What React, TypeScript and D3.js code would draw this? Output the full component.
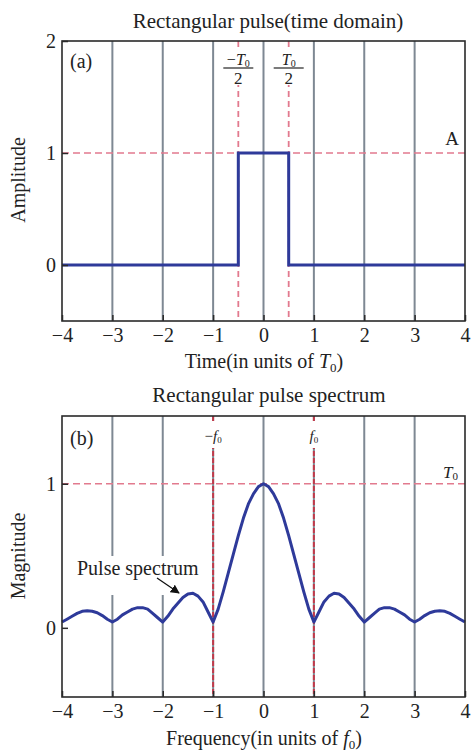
import { useEffect, useRef } from "react";
import * as d3 from "d3";

// panel (a): rectangular pulse
const timeX = [-4, -0.5, -0.5, 0.5, 0.5, 4];
const timeAmp = [0, 0, 1, 1, 0, 0];

// panel (b): magnitude, f from -4 to 4
const freq = [
  -4, -3.9, -3.8, -3.7, -3.6, -3.5, -3.4, -3.3, -3.2, -3.1,
  -3, -2.9, -2.8, -2.7, -2.6, -2.5, -2.4, -2.3, -2.2, -2.1,
  -2, -1.9, -1.8, -1.7, -1.6, -1.5, -1.4, -1.3, -1.2, -1.1,
  -1, -0.9, -0.8, -0.7, -0.6, -0.5, -0.4, -0.3, -0.2, -0.1,
  0, 0.1, 0.2, 0.3, 0.4, 0.5, 0.6, 0.7, 0.8, 0.9,
  1, 1.1, 1.2, 1.3, 1.4, 1.5, 1.6, 1.7, 1.8, 1.9,
  2, 2.1, 2.2, 2.3, 2.4, 2.5, 2.6, 2.7, 2.8, 2.9,
  3, 3.1, 3.2, 3.3, 3.4, 3.5, 3.6, 3.7, 3.8, 3.9, 4,
];
const magnitude = [
  0.04, 0.06, 0.08, 0.1, 0.115, 0.118, 0.115, 0.105, 0.085, 0.06,
  0.04, 0.06, 0.09, 0.11, 0.13, 0.14, 0.14, 0.13, 0.1, 0.07,
  0.04, 0.08, 0.13, 0.17, 0.21, 0.235, 0.24, 0.22, 0.18, 0.11,
  0.04, 0.13, 0.25, 0.38, 0.51, 0.64, 0.76, 0.86, 0.93, 0.98,
  1.0, 0.98, 0.93, 0.86, 0.76, 0.64, 0.51, 0.38, 0.25, 0.13,
  0.04, 0.11, 0.18, 0.22, 0.24, 0.235, 0.21, 0.17, 0.13, 0.08,
  0.04, 0.07, 0.1, 0.13, 0.14, 0.14, 0.13, 0.11, 0.09, 0.06,
  0.04, 0.06, 0.085, 0.105, 0.115, 0.118, 0.115, 0.1, 0.08, 0.06, 0.04,
];

const xTicks = [-4, -3, -2, -1, 0, 1, 2, 3, 4];
const gridTicks = [-3, -2, -1, 0, 1, 2, 3];
const yTicksA = [0, 1, 2];
const yTicksB = [0, 1];

const FONT = "'Liberation Serif', 'Times New Roman', serif";
const BLUE = "#2e3a9a";
const GRAY = "#7e8893";
const PINK = "#e27a8e";
const RED = "#c23a4a";

const Chart = () => {
  const ref = useRef(null);

  useEffect(() => {
    if (!ref.current) return;
    const svg = d3.select(ref.current);
    svg.selectAll("*").remove();

    const width = 473;
    const height = 751;
    svg.attr("viewBox", [0, 0, width, height]).attr("font-family", FONT);

    const x = d3.scaleLinear().domain([-4, 4]).range([62, 465]);

    const frame = (top: number, bottom: number) =>
      svg
        .append("rect")
        .attr("x", 62)
        .attr("y", top)
        .attr("width", 403)
        .attr("height", bottom - top)
        .attr("fill", "none")
        .attr("stroke", "#2a2a2a")
        .attr("stroke-width", 1.6);

    const axes = (y: any, ticks: number[], bottom: number) => {
      svg
        .append("g")
        .attr("transform", `translate(0,${bottom})`)
        .call(d3.axisBottom(x).tickValues(xTicks).tickSize(-6).tickPadding(7))
        .call((g: any) => g.select(".domain").remove())
        .call((g: any) =>
          g.selectAll("text").attr("font-size", 20).attr("font-family", FONT).attr("fill", "#222")
        )
        .call((g: any) => g.selectAll("line").attr("stroke", "#2a2a2a").attr("stroke-width", 1.5));
      svg
        .append("g")
        .attr("transform", `translate(62,0)`)
        .call(d3.axisLeft(y).tickValues(ticks).tickSize(-6).tickPadding(6).tickFormat(d3.format("d")))
        .call((g: any) => g.select(".domain").remove())
        .call((g: any) =>
          g.selectAll("text").attr("font-size", 20).attr("font-family", FONT).attr("fill", "#222")
        )
        .call((g: any) => g.selectAll("line").attr("stroke", "#2a2a2a").attr("stroke-width", 1.5));
    };

    const text = (tx: number, ty: number, s: string, size = 20, anchor = "middle") =>
      svg
        .append("text")
        .attr("x", tx)
        .attr("y", ty)
        .attr("font-size", size)
        .attr("text-anchor", anchor)
        .attr("fill", "#222")
        .text(s);

    // ---------- panel (a) ----------
    const ya = d3.scaleLinear().domain([-0.5, 2]).range([321, 41]);

    svg
      .append("g")
      .selectAll("line")
      .data(gridTicks)
      .join("line")
      .attr("x1", (d) => x(d))
      .attr("x2", (d) => x(d))
      .attr("y1", ya(2))
      .attr("y2", ya(-0.5))
      .attr("stroke", GRAY)
      .attr("stroke-width", 2);

    svg
      .append("line")
      .attr("x1", x(-4))
      .attr("x2", x(4))
      .attr("y1", ya(1))
      .attr("y2", ya(1))
      .attr("stroke", PINK)
      .attr("stroke-width", 1.5)
      .attr("stroke-dasharray", "7,4");

    svg
      .append("g")
      .selectAll("line")
      .data([-0.5, 0.5])
      .join("line")
      .attr("x1", (d) => x(d))
      .attr("x2", (d) => x(d))
      .attr("y1", ya(2))
      .attr("y2", ya(-0.5))
      .attr("stroke", PINK)
      .attr("stroke-width", 1.8)
      .attr("stroke-dasharray", "6,4");

    const pulse = d3
      .line<number>()
      .x((_, i) => x(timeX[i]))
      .y((d) => ya(d));
    svg
      .append("path")
      .attr("d", pulse(timeAmp))
      .attr("fill", "none")
      .attr("stroke", BLUE)
      .attr("stroke-width", 3);

    // fraction labels -T0/2, T0/2
    [
      { v: -0.5, neg: true },
      { v: 0.5, neg: false },
    ].forEach(({ v, neg }) => {
      const cx = x(v);
      svg.append("rect").attr("x", cx - 17).attr("y", 48).attr("width", 34).attr("height", 37).attr("fill", "#fff");
      const t = svg
        .append("text")
        .attr("x", cx)
        .attr("y", 65)
        .attr("font-size", 16)
        .attr("text-anchor", "middle")
        .attr("fill", "#222");
      if (neg) t.append("tspan").text("−");
      t.append("tspan").attr("font-style", "italic").text("T");
      t.append("tspan").attr("font-size", 10).attr("dy", 2).text("0");
      svg
        .append("line")
        .attr("x1", cx - 15)
        .attr("x2", cx + 15)
        .attr("y1", 68)
        .attr("y2", 68)
        .attr("stroke", "#222")
        .attr("stroke-width", 1.2);
      text(cx, 84, "2", 17);
    });

    frame(41, 321);
    axes(ya, yTicksA, 321);

    text(268, 28, "Rectangular pulse(time domain)", 21);
    text(70, 68, "(a)", 20, "start");
    text(459, 145, "A", 19, "end");
    svg
      .append("text")
      .attr("transform", `translate(25,180) rotate(-90)`)
      .attr("font-size", 20)
      .attr("text-anchor", "middle")
      .attr("fill", "#222")
      .text("Amplitude");
    const ta = text(264, 368, "Time(in units of ", 20);
    ta.append("tspan").attr("font-style", "italic").text("T");
    ta.append("tspan").attr("font-size", 13).attr("dy", 4).text("0");
    ta.append("tspan").attr("dy", -4).text(")");

    // ---------- panel (b) ----------
    const yb = d3.scaleLinear().domain([-0.48, 1.47]).range([697, 416]);

    svg
      .append("g")
      .selectAll("line")
      .data(gridTicks)
      .join("line")
      .attr("x1", (d) => x(d))
      .attr("x2", (d) => x(d))
      .attr("y1", yb(1.47))
      .attr("y2", yb(-0.48))
      .attr("stroke", GRAY)
      .attr("stroke-width", 2);

    svg
      .append("line")
      .attr("x1", x(-4))
      .attr("x2", x(4))
      .attr("y1", yb(1))
      .attr("y2", yb(1))
      .attr("stroke", PINK)
      .attr("stroke-width", 1.5)
      .attr("stroke-dasharray", "7,4");

    svg
      .append("g")
      .selectAll("line")
      .data([-1, 1])
      .join("line")
      .attr("x1", (d) => x(d))
      .attr("x2", (d) => x(d))
      .attr("y1", yb(1.47))
      .attr("y2", yb(-0.48))
      .attr("stroke", RED)
      .attr("stroke-width", 2)
      .attr("stroke-dasharray", "5,2");

    // labels -f0, f0 with white backing
    [
      { v: -1, s: "−" },
      { v: 1, s: "" },
    ].forEach(({ v, s }) => {
      const cx = x(v);
      svg.append("rect").attr("x", cx - 10).attr("y", 421).attr("width", 20).attr("height", 27).attr("fill", "#fff");
      const t = svg
        .append("text")
        .attr("x", cx)
        .attr("y", 441)
        .attr("font-size", 15)
        .attr("text-anchor", "middle")
        .attr("fill", "#222");
      if (s) t.append("tspan").text(s);
      t.append("tspan").attr("font-style", "italic").text("f");
      t.append("tspan").attr("font-size", 9).attr("dy", 2).text("0");
    });

    // annotation box covering the grid lines
    svg.append("rect").attr("x", 74).attr("y", 556).attr("width", 132).attr("height", 39).attr("fill", "#fff");
    text(77, 575, "Pulse spectrum", 20, "start");

    const spectrum = d3
      .line<number>()
      .x((_, i) => x(freq[i]))
      .y((d) => yb(d));
    svg
      .append("path")
      .attr("d", spectrum(magnitude))
      .attr("fill", "none")
      .attr("stroke", BLUE)
      .attr("stroke-width", 3)
      .attr("stroke-linejoin", "round");

    // arrow
    svg
      .append("defs")
      .append("marker")
      .attr("id", "arr")
      .attr("viewBox", "0 0 10 10")
      .attr("refX", 9)
      .attr("refY", 5)
      .attr("markerWidth", 9)
      .attr("markerHeight", 9)
      .attr("markerUnits", "userSpaceOnUse")
      .attr("orient", "auto")
      .append("path")
      .attr("d", "M0,0L10,5L0,10z")
      .attr("fill", "#111");
    svg
      .append("line")
      .attr("x1", 157)
      .attr("y1", 578)
      .attr("x2", 179)
      .attr("y2", 593)
      .attr("stroke", "#111")
      .attr("stroke-width", 1.3)
      .attr("marker-end", "url(#arr)");

    frame(416, 697);
    axes(yb, yTicksB, 697);

    text(269, 402, "Rectangular pulse spectrum", 21);
    text(70, 445, "(b)", 20, "start");
    const t0 = svg
      .append("text")
      .attr("x", 458)
      .attr("y", 478)
      .attr("font-size", 17)
      .attr("text-anchor", "end")
      .attr("fill", "#222");
    t0.append("tspan").attr("font-style", "italic").text("T");
    t0.append("tspan").attr("font-size", 11).attr("dy", 2).text("0");
    svg
      .append("text")
      .attr("transform", `translate(25,556) rotate(-90)`)
      .attr("font-size", 20)
      .attr("text-anchor", "middle")
      .attr("fill", "#222")
      .text("Magnitude");
    const tb = text(264, 745, "Frequency(in units of ", 20);
    tb.append("tspan").attr("font-style", "italic").text("f");
    tb.append("tspan").attr("font-size", 13).attr("dy", 4).text("0");
    tb.append("tspan").attr("dy", -4).text(")");
  }, []);

  return (
    <svg
      ref={ref}
      width={473}
      height={751}
      style={{ position: "absolute", left: 0, top: 0, background: "#fff" }}
    ></svg>
  );
};

export default function App() {
  return <Chart />;
}
